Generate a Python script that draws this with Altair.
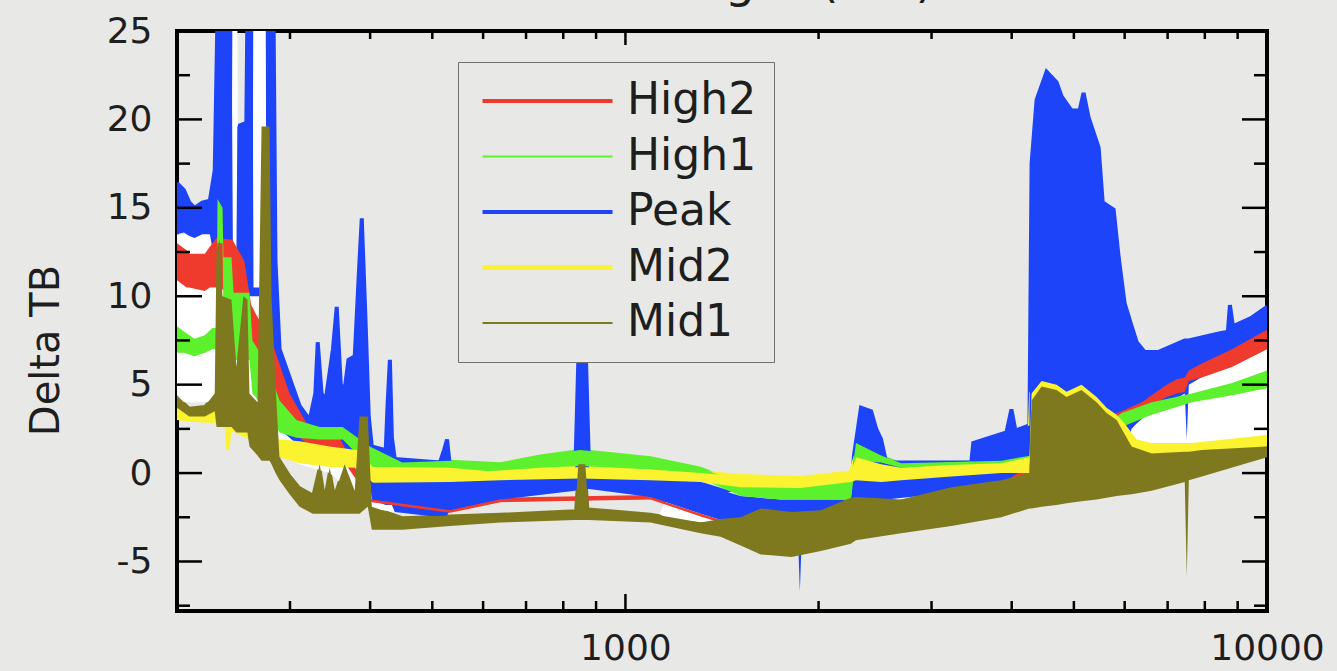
import altair as alt
import pandas as pd

TITLE = "Wavelength (nm)"
Y_TITLE = "Delta TB"
SERIES = ["High2", "High1", "Peak", "Mid2", "Mid1"]
COLORS = ["#ee3b2e", "#5df02c", "#1d44f8", "#fbf230", "#7e791f"]
LEGEND_WIDTHS = [4, 2, 4, 5, 2]
X_LABELS = [1000, 10000]
Y_LABELS = [-5, 0, 5, 10, 15, 20, 25]
X_MINOR = [300, 400, 500, 600, 700, 800, 900, 2000, 3000, 4000, 5000, 6000, 7000, 8000, 9000]
X_MAJOR = [1000]
Y_MAJOR = [-5, 0, 5, 10, 15, 20]
Y_MINOR = [-7.5, -2.5, 2.5, 7.5, 12.5, 17.5, 22.5]

# (x, lower edge, upper edge) of each filled band
PEAK = [
    (200, 13.5, 16.4), (205, 13.6, 16.0), (209, 13.4, 15.3), (213, 13.3, 15.0),
    (219, 13.5, 15.3), (225, 13.5, 15.4), (229, 12.0, 17.1), (231.3, 11.0, 26),
    (243.2, 10.0, 26), (244.5, 10.0, 12.0), (247.5, 10.0, 12.0), (248.4, 10.0, 19.6),
    (256.5, 10.0, 19.8), (257.5, 10.0, 26), (262.2, 10.0, 26), (263.2, 10.0, 10.5),
    (275.0, 10.0, 10.5), (275.8, 5.0, 26), (282.8, 5.0, 26), (284.8, 3.0, 12.0),
    (289, 2.5, 7.0), (299.6, 2.0, 5.4), (310.5, 1.5, 3.8), (322, 1.0, 3.0),
    (328.6, 1.0, 4.5), (331.4, 1.0, 7.4), (336, 1.0, 4.5), (341, 1.0, 4.1),
    (350, 1.0, 7.0), (354.8, 1.0, 9.4), (360, 1.0, 5.0), (365, 1.0, 4.7),
    (370, 1.0, 6.4), (378.5, 1.0, 6.6), (385, 1.0, 12.0), (388.2, 1.0, 14.4),
    (394, 1.0, 8.0), (398, 0.0, 3.2), (402.4, -1.5, 1.5), (423, -1.8, 1.3),
    (426, -1.8, 4.0), (429.4, -1.8, 6.4), (432.5, -1.8, 2.0), (437, -2.2, 0.8),
    (514, -2.5, 0.6), (521.5, -2.5, 1.3), (527.2, -2.4, 1.9), (532.9, -2.1, 0.3),
    (638, -1.5, -0.3), (835, -1.0, -0.1), (844.5, -0.9, 6.4), (868, -0.9, 6.4),
    (878, -0.9, 0.0), (1094, -1.35, -0.2), (1310, -2.3, -0.6), (1512, -3.0, -1.3),
    (1746, -3.4, -1.5), (1857, -3.4, -1.5), (1870, -6.7, -1.5), (1884, -3.4, -1.5),
    (2246, -2.5, -1.5), (2271, -2.5, 1.0), (2329, -2.0, 3.7), (2415, -2.0, 3.5),
    (2459, -2.0, 2.5), (2503, -1.5, 1.9), (2549, -1.5, 0.6), (3460, -1.0, 0.6),
    (3485, -1.0, 1.7), (3925, -0.6, 2.3), (3996, -0.6, 3.6), (4054, -0.6, 2.4),
    (4263, -0.5, 2.7), (4296, -0.5, 17.5), (4374, -0.5, 21.1), (4534, -0.5, 22.7),
    (4699, -0.5, 22.1), (4784, -0.5, 21.3), (4959, -0.5, 20.5), (5103, -0.5, 20.5),
    (5177, -0.5, 21.5), (5272, 0.0, 20.1), (5465, 0.0, 18.4), (5545, 0.0, 15.3),
    (5767, 0.5, 14.9), (5872, 0.5, 12.2), (5999, 1.0, 9.6), (6152, 2.5, 8.3),
    (6264, 2.8, 7.4), (6447, 3.2, 6.85), (6780, 3.6, 6.85), (7444, 4.5, 7.5),
    (7499, 1.9, 7.5), (7553, 5.0, 7.5), (8414, 6.0, 7.9), (8690, 6.0, 8.0),
    (8754, 6.2, 9.5), (8850, 6.3, 8.3), (9476, 6.8, 8.8), (10000, 7.5, 9.4),
]
HIGH2 = [
    (200, 10.9, 13.0), (207, 10.5, 12.6), (209, 10.5, 12.4), (221, 10.3, 12.4),
    (225, 10.5, 12.8), (230.5, 10.5, 13.3), (244, 10.2, 13.2), (254.7, 8.0, 12.0),
    (261, 7.5, 9.5), (270, 6.5, 8.5), (275.8, 6.5, 8.5), (283.8, 4.0, 7.0),
    (299.6, 2.5, 4.5), (322, 1.5, 2.5), (358.6, 1.0, 2.0), (402.4, -1.65, -1.5),
    (532.9, -2.25, -2.1), (638, -1.65, -1.5), (1094, -1.5, -1.35), (1310, -2.45, -2.3),
    (1512, -3.15, -3.0), (1746, -3.55, -3.4), (2246, -2.65, -2.5), (2287, -2.15, -2.0),
    (2690, -1.65, -1.5), (3854, -0.75, -0.6), (5524, 1.5, 3.0), (6380, 3.5, 4.0),
    (6730, 4.0, 4.6), (6978, 4.3, 5.0), (7233, 4.5, 5.3), (7444, 4.6, 5.4),
    (7553, 5.2, 5.8), (7915, 5.4, 6.2), (8818, 6.0, 7.0), (10000, 7.0, 8.1),
]
HIGH1 = [
    (200, 6.8, 8.3), (205, 6.8, 8.0), (213, 6.6, 7.6), (221, 6.8, 7.8),
    (227, 7.0, 8.2), (230.5, 7.0, 8.2), (231.3, 13.0, 15.5), (235.5, 13.0, 15.0),
    (236.3, 8.7, 12.2), (243.2, 8.7, 12.2), (245, 6.4, 10.2), (259.4, 6.4, 10.2),
    (262.2, 4.5, 7.5), (275.8, 3.6, 6.2), (289, 2.3, 4.1), (307, 2.0, 3.0),
    (333.8, 1.9, 2.6), (362.5, 1.9, 2.6), (399.5, 0.35, 1.5), (449, 0.0, 0.6),
    (532.9, 0.0, 0.7), (638, 0.15, 0.55), (736.6, 0.3, 1.0), (850.6, 0.4, 1.3),
    (1094, 0.2, 0.9), (1310, -0.3, 0.3), (1512, -1.3, -0.6), (1746, -1.5, -0.8),
    (2246, -1.5, -0.5), (2287, 0.7, 1.7), (2503, 0.6, 1.0), (2690, 0.3, 0.55),
    (3854, 0.3, 0.7), (4296, 0.5, 1.0), (5524, 1.5, 2.5), (5935, 2.6, 3.4),
    (6612, 3.3, 4.0), (7635, 4.0, 4.5), (8818, 4.4, 5.1), (10000, 4.8, 5.8),
]
MID2 = [
    (200, 3.0, 4.0), (209, 2.9, 3.4), (237.1, 2.8, 3.3), (238.8, 1.3, 3.3),
    (241.4, 1.3, 3.0), (243.2, 2.4, 3.0), (268.9, 1.6, 2.5), (289, 0.9, 1.9),
    (310.5, 0.55, 1.8), (346, 0.35, 1.5), (381, 0.3, 1.3), (404, -0.55, 0.35),
    (532.9, -0.5, 0.3), (638, -0.4, 0.05), (850.6, -0.3, 0.35), (1094, -0.4, 0.2),
    (1310, -0.5, 0.0), (1512, -0.8, -0.2), (1875, -0.85, -0.3), (2246, -0.5, 0.0),
    (2287, -0.4, 0.9), (2503, -0.5, 0.5), (2690, -0.4, 0.3), (3220, -0.2, 0.45),
    (3854, 0.0, 0.55), (4263, 0.0, 0.9), (4296, 3.5, 4.5), (4453, 4.4, 5.2),
    (4699, 4.2, 5.0), (4870, 3.8, 4.6), (5139, 4.2, 5.0), (5425, 3.5, 4.3),
    (5623, 2.9, 3.7), (5830, 2.5, 3.3), (5999, 1.9, 2.8), (6264, 0.9, 1.9),
    (6612, 0.9, 1.7), (7635, 1.0, 1.7), (10000, 1.5, 2.15),
]
MID1 = [
    (200, 3.7, 4.4), (209, 3.2, 3.7), (221, 3.2, 3.8), (229, 3.5, 4.5),
    (230.5, 2.6, 12.6), (233, 2.6, 13.2), (235.5, 2.6, 10.0), (243.2, 2.6, 9.8),
    (247.5, 2.3, 6.0), (253.8, 2.3, 10.0), (257.5, 2.3, 9.8), (259.4, 1.5, 4.5),
    (267, 1.0, 4.0), (270.9, 0.7, 19.6), (278.8, 0.7, 19.6), (280.8, 0.5, 10.0),
    (284.8, 0.0, 5.0), (289, -0.4, 0.8), (299.6, -1.2, -0.1), (310.5, -1.9, -0.8),
    (325.5, -2.3, -1.2), (333.8, -2.3, 0.5), (339.8, -2.3, -1.3), (346, -2.3, 0.3),
    (352, -2.3, -1.2), (365, -2.3, 0.5), (378.5, -2.3, -1.0), (385, -2.3, 3.2),
    (396.6, -1.9, 3.2), (402.4, -3.2, -1.9), (449, -3.2, -2.5), (532.9, -3.0, -2.4),
    (638, -2.8, -2.3), (835, -2.65, -2.1), (844.5, -2.65, 0.5), (865.9, -2.65, 0.5),
    (875.3, -2.65, -2.0), (1094, -2.8, -2.3), (1310, -3.4, -2.8), (1407, -3.6, -2.6),
    (1512, -4.1, -2.5), (1625, -4.6, -2.0), (1815, -4.75, -2.2), (2017, -4.4, -2.1),
    (2246, -4.0, -1.4), (2287, -3.8, -1.35), (2690, -3.4, -1.5), (3220, -3.0, -0.8),
    (3854, -2.5, -0.4), (4263, -2.0, 0.0), (4296, -2.0, 4.1), (4453, -1.9, 4.9),
    (4699, -1.8, 4.7), (4870, -1.7, 4.3), (5139, -1.6, 4.7), (5425, -1.5, 4.0),
    (5623, -1.4, 3.4), (5830, -1.3, 3.0), (6152, -1.2, 1.5), (6612, -1.0, 1.1),
    (7444, -0.5, 1.2), (7499, -5.9, 1.2), (7553, -0.4, 1.2), (7915, -0.2, 1.3),
    (10000, 0.9, 1.5),
]
# white gaps seen between the coloured bands
GAPS = [
    (200, 4.0, 13.5), (243.2, 4.0, 13.5), (244, 4.0, 26), (248.4, 4.0, 26),
    (249.3, 4.0, 12.0), (262.2, 3.0, 12.0), (263, 3.0, 26), (275, 3.0, 26),
    (275.8, 3.0, 10.0), (289, 1.0, 4.0), (310.5, 0.5, 3.5), (346, 0.0, 2.0),
    (399.5, -2.0, 0.5), (437, -2.2, 0.0), (514, -2.3, -2.3), (1130, -2.3, -2.3),
    (1160, -2.6, -1.5), (1512, -3.0, -1.0), (1875, -3.3, -1.0), (2246, -2.3, -1.0),
    (2329, -2.0, 0.0), (3854, -1.0, 0.5), (4296, 0.0, 3.0), (5935, 1.5, 4.0),
    (7365, 1.5, 6.0), (10000, 2.0, 8.5),
]

BANDS = {"High2": HIGH2, "High1": HIGH1, "Peak": PEAK, "Mid2": MID2, "Mid1": MID1}
DRAW_ORDER = ["Peak", "High2", "High1", "Mid2", "Mid1"]

FONT = "DejaVu Sans"
BG = "#e8e9e7"
INK = "#1e1e1e"
W, H = 1090, 580
NBSP = "\u00a0"

frames = {k: pd.DataFrame(v, columns=["x", "lo", "hi"]).assign(series=k) for k, v in BANDS.items()}
all_df = pd.concat([frames[s] for s in SERIES], ignore_index=True)
gap_df = pd.DataFrame(GAPS, columns=["x", "lo", "hi"])

xs = alt.Scale(type="log", domain=[200, 10000], nice=False)
ys = alt.Scale(domain=[-7.8, 25], nice=False, zero=False)
cs = alt.Scale(domain=SERIES, range=COLORS)

x_axis = alt.Axis(values=X_LABELS, labelExpr="'' + datum.value", ticks=False, tickSize=0,
                  domain=False, grid=False, title=None, labelFont=FONT, labelFontSize=36,
                  labelColor=INK, labelPadding=20, labelFlush=False, labelOverlap=False)
y_axis = alt.Axis(values=Y_LABELS, labelExpr="'' + datum.value", ticks=False, tickSize=0,
                  domain=False, grid=False, title=Y_TITLE, labelFont=FONT, labelFontSize=36,
                  labelColor=INK, labelPadding=25, labelFlush=False, labelOverlap=False,
                  titleFont=FONT, titleFontSize=40, titleFontWeight="normal", titleColor=INK,
                  titleX=-131, titleY=319, titleAngle=270, titleAlign="center",
                  titleBaseline="middle")

legend = alt.Legend(title=None, orient="none", legendX=281, legendY=31, direction="vertical",
                    symbolType="stroke", symbolSize=16900, symbolStrokeWidth=4,
                    labelFont=FONT, labelFontSize=44, labelColor=INK, padding=17,
                    fillColor=BG, strokeColor="#707070", rowPadding=11.5, clipHeight=44,
                    labelOffset=12, symbolOffset=5,
                    labelExpr="datum.label + '" + NBSP + NBSP + "'")

X = lambda f: alt.X(f, scale=xs, axis=x_axis, title=None)
Y = lambda f: alt.Y(f, scale=ys, axis=y_axis, title=Y_TITLE)

legend_lines = alt.Chart(all_df).mark_line(clip=True).encode(
    x=X("x:Q"), y=Y("hi:Q"),
    color=alt.Color("series:N", scale=cs, legend=legend, sort=SERIES),
    strokeWidth=alt.StrokeWidth("series:N", sort=SERIES, legend=legend,
                                scale=alt.Scale(type="ordinal", domain=SERIES, range=LEGEND_WIDTHS)),
)

gaps = alt.Chart(gap_df).mark_area(color="white", clip=True).encode(
    x=X("x:Q"), y=Y("hi:Q"), y2="lo:Q",
)

bands = [
    alt.Chart(frames[s]).mark_area(clip=True, interpolate="linear").encode(
        x=X("x:Q"), y=Y("hi:Q"), y2="lo:Q",
        color=alt.Color("series:N", scale=cs, legend=None),
    )
    for s in DRAW_ORDER
]

def xticks(vals, y0, y1):
    return alt.Chart(pd.DataFrame({"v": vals})).mark_rule(color="black", strokeWidth=2.5).encode(
        x=X("v:Q"), y=alt.value(y0), y2=alt.value(y1))

def yticks(vals, x0, x1):
    return alt.Chart(pd.DataFrame({"v": vals})).mark_rule(color="black", strokeWidth=2.5).encode(
        y=Y("v:Q"), x=alt.value(x0), x2=alt.value(x1))

ticks = [
    xticks(X_MINOR, H, H - 10), xticks(X_MAJOR, H, H - 17),
    xticks(X_MINOR, 0, 8), xticks(X_MAJOR, 0, 14),
    yticks(Y_MAJOR, 0, 25), yticks(Y_MINOR, 0, 13),
    yticks(Y_MAJOR, W, W - 25), yticks(Y_MINOR, W, W - 13),
]

title = alt.Chart(pd.DataFrame({"t": [TITLE]})).mark_text(
    font=FONT, fontSize=48, color=INK, align="center", baseline="alphabetic"
).encode(text="t:N", x=alt.value(550), y=alt.value(-34))

chart = alt.layer(legend_lines, gaps, *bands, *ticks, title).properties(
    width=W, height=H,
    autosize=alt.AutoSizeParams(type="none"),
    padding={"left": 177, "top": 31, "right": 70, "bottom": 60},
    background=BG,
).configure_view(stroke="black", strokeWidth=4, fill=BG)

chart.save("out.html", embed_options={"renderer": "svg", "actions": False})
